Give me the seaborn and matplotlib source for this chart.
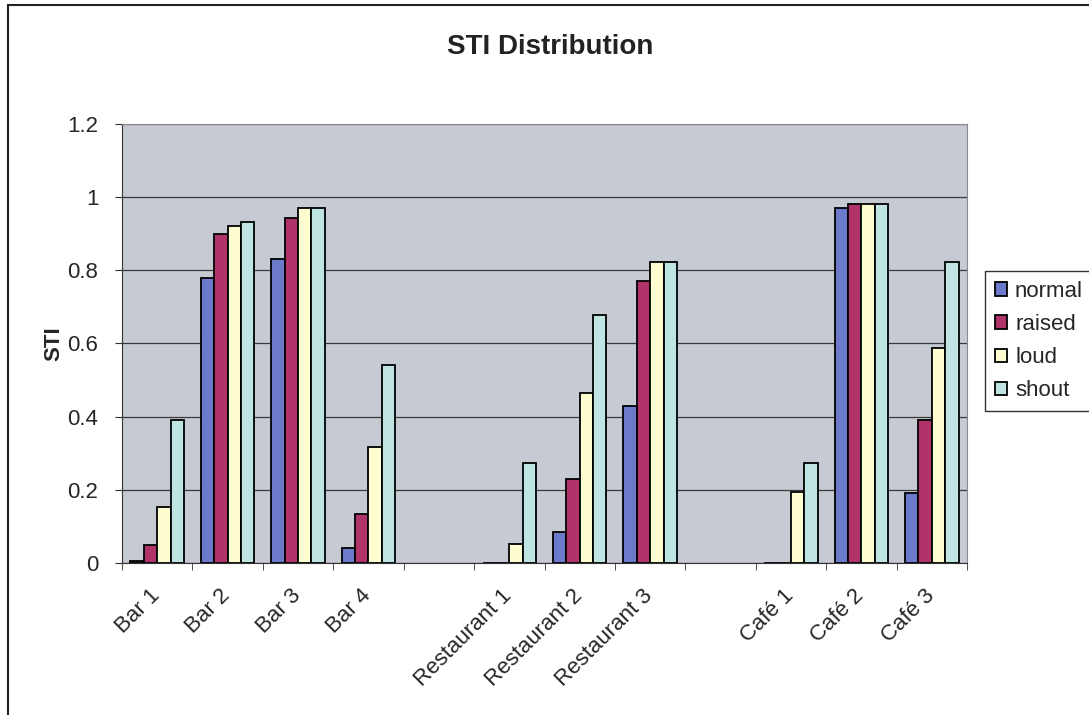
import pandas as pd
import matplotlib.pyplot as plt
import matplotlib.transforms as mtransforms
from matplotlib.patches import Rectangle
import seaborn as sns

# Dados
locais = ['Bar 1', 'Bar 2', 'Bar 3', 'Bar 4', ' ',
          'Restaurant 1', 'Restaurant 2', 'Restaurant 3', '  ',
          'Café 1', 'Café 2', 'Café 3']
com_dados = ['Bar 1', 'Bar 2', 'Bar 3', 'Bar 4',
             'Restaurant 1', 'Restaurant 2', 'Restaurant 3',
             'Café 1', 'Café 2', 'Café 3']
normal = [0.005, 0.78, 0.83, 0.04, 0.0, 0.085, 0.43, 0.0, 0.97, 0.19]
raised = [0.048, 0.90, 0.943, 0.134, 0.0, 0.229, 0.772, 0.0, 0.982, 0.392]
loud = [0.152, 0.922, 0.971, 0.318, 0.052, 0.464, 0.822, 0.195, 0.982, 0.587]
shout = [0.39, 0.932, 0.971, 0.542, 0.273, 0.678, 0.822, 0.274, 0.982, 0.823]
niveis = ['normal', 'raised', 'loud', 'shout']
cores = ['#6b7acb', '#b0346a', '#fdfdcf', '#bfe5e2']

df = pd.DataFrame({'local': com_dados, 'normal': normal, 'raised': raised,
                   'loud': loud, 'shout': shout})
df = df.melt(id_vars='local', var_name='nivel', value_name='STI')

sns.set_style('white')
plt.rcParams['font.family'] = ['Liberation Sans', 'DejaVu Sans']

fig = plt.figure(figsize=(10.89, 7.15), dpi=100)
ax = fig.add_axes([0.112, 0.2126, 0.776, 0.614])
ax.set_facecolor('#c6cad2')

sns.barplot(data=df, x='local', y='STI', hue='nivel', order=locais,
            hue_order=niveis, palette=cores, width=0.76, saturation=1,
            edgecolor='black', linewidth=1.3, ax=ax, legend=True)

ax.set_ylim(0, 1.2)
ax.set_xlim(-0.5, len(locais) - 0.5)
ax.set_yticks([0, 0.2, 0.4, 0.6, 0.8, 1.0, 1.2])
ax.set_yticklabels(['0', '0.2', '0.4', '0.6', '0.8', '1', '1.2'], fontsize=16)
ax.yaxis.grid(True, color='#3a3a3a', linewidth=0.9)
ax.set_axisbelow(True)
for s in ['top', 'right']:
    ax.spines[s].set_color('#8a8a8a')
for s in ['left', 'bottom']:
    ax.spines[s].set_color('#333333')
ax.tick_params(axis='y', length=5, pad=12, direction='out', color='#333333',
               left=True)

# rótulos no centro, marcas nas fronteiras
ax.set_xticks(range(len(locais)))
ax.set_xticklabels(locais, rotation=45, ha='right', rotation_mode='anchor',
                   fontsize=16)
ax.tick_params(axis='x', length=0, pad=16)
offset = mtransforms.ScaledTranslation(-0.08, 0, fig.dpi_scale_trans)
for lbl in ax.get_xticklabels():
    lbl.set_transform(lbl.get_transform() + offset)
ax.set_xticks([i - 0.5 for i in range(len(locais) + 1)], minor=True)
ax.tick_params(axis='x', which='minor', length=5, direction='out',
               color='#333333', bottom=True)

ax.set_xlabel('')
ax.set_ylabel('STI', fontsize=16, fontweight='bold', labelpad=2)
fig.text(0.505, 0.934, 'STI Distribution', ha='center', va='center',
         fontsize=20, fontweight='bold', color='#222222')

leg = ax.legend(loc='center left', bbox_to_anchor=(0.9045, 0.523),
                bbox_transform=fig.transFigure, fontsize=16, frameon=True,
                fancybox=False, edgecolor='black', handlelength=0.55,
                handleheight=0.55, handletextpad=0.35, labelspacing=0.55,
                borderpad=0.45, borderaxespad=0)
leg.get_frame().set_linewidth(1)

# moldura externa do gráfico
fig.patches.append(Rectangle((8 / 1089, -0.05), 1.1, 1 - 5 / 715 + 0.05,
                             transform=fig.transFigure, fill=False,
                             edgecolor='#222222', linewidth=1.5))

plt.savefig('out.png', dpi=100)
